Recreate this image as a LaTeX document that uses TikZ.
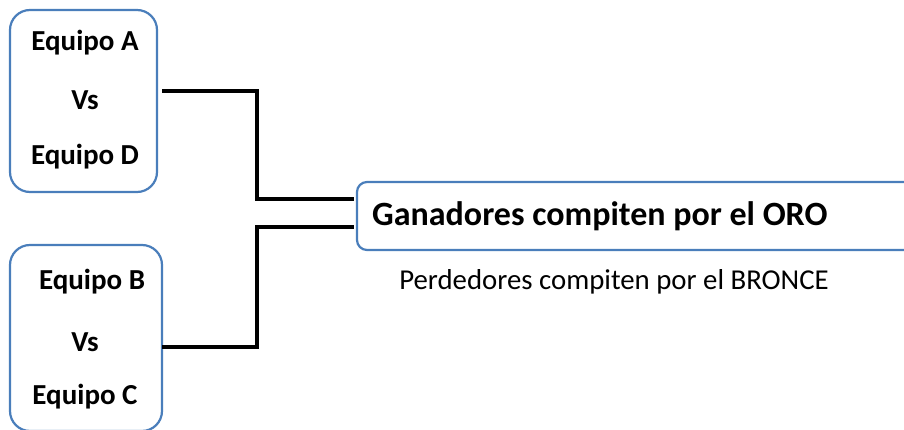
\documentclass[tikz,border=0pt]{standalone}
\usepackage{fontspec}
\setmainfont{Carlito}
\definecolor{boxblue}{RGB}{74,126,187}
\tikzstyle{every node}=[inner sep=0pt]
\tikzset{
  matchbox/.style={draw=boxblue,line width=2.2pt,rounded corners=20pt},
  team/.style={font=\fontsize{29}{33}\selectfont\bfseries},
  link/.style={line width=3.6pt,line cap=rect}
}

\begin{document}
\begin{tikzpicture}[x=1pt, y=-1pt]
\useasboundingbox (0,0) rectangle (904,430);
\clip (0,0) rectangle (904,430);
%boxes
\node[matchbox, minimum width=147pt, minimum height=182pt] (boxA) at (83.5,101) {};
\node[matchbox, minimum width=152pt, minimum height=186pt] (boxB) at (86,338) {};
\node[matchbox, rounded corners=10pt, minimum width=570pt, minimum height=68pt] (oro) at (642,216) {};
%teams
\node[team] (eqA) at (85,43) {Equipo A};
\node[team] (vsA) at (85,100) {Vs};
\node[team] (eqD) at (85,157) {Equipo D};
\node[team] (eqB) at (92,282) {Equipo B};
\node[team] (vsB) at (85,342) {Vs};
\node[team] (eqC) at (85,397) {Equipo C};
%labels
\node[font=\fontsize{34}{38}\selectfont\bfseries, anchor=west] (gana) at (372,216) {Ganadores compiten por el ORO};
\node[font=\fontsize{28.8}{32}\selectfont] (pierde) at (614,282) {Perdedores compiten por el BRONCE};
%connectors
\coordinate (jA) at ([shift={(-4pt,17pt)}]oro.west);
\coordinate (jB) at ([shift={(-4pt,-11pt)}]oro.west);
\draw[link] ([shift={(6pt,10pt)}]boxA.east) -| ([xshift=-95pt]jA) -- (jA);
\draw[link] ([shift={(1pt,-9pt)}]boxB.east) -| ([xshift=-95pt]jB) -- (jB);
\end{tikzpicture}
\end{document}
